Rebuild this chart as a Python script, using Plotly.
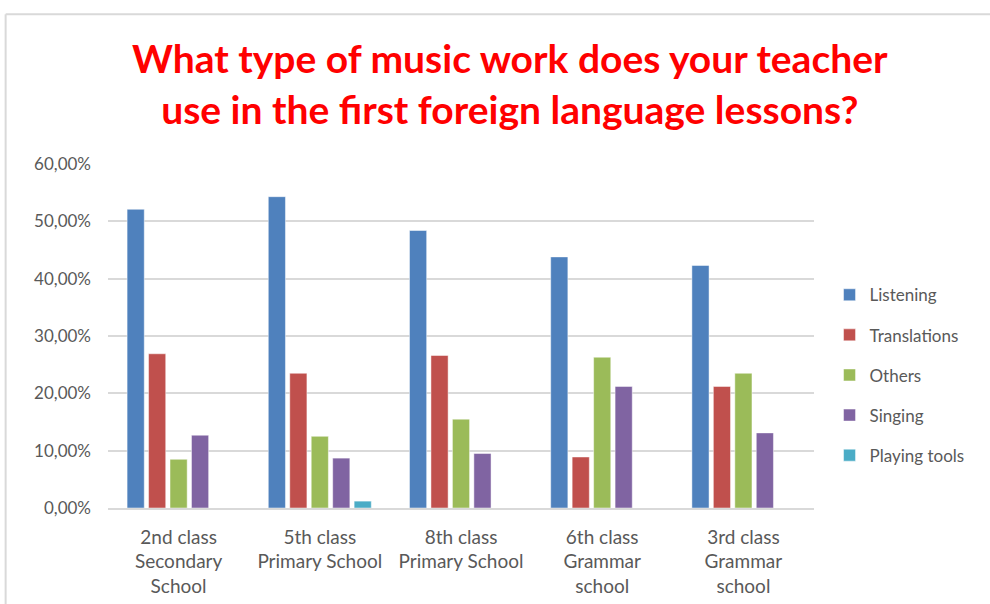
import plotly.graph_objects as go

categories = ["2nd class<br>Secondary<br>School", "5th class<br>Primary School", "8th class<br>Primary School",
              "6th class<br>Grammar<br>school", "3rd class<br>Grammar<br>school"]
series_names = ["Listening", "Translations", "Others", "Singing", "Playing tools"]
listening = [0.521, 0.543, 0.484, 0.438, 0.423]
translations = [0.269, 0.235, 0.266, 0.089, 0.212]
others = [0.085, 0.125, 0.155, 0.263, 0.235]
singing = [0.127, 0.087, 0.095, 0.212, 0.131]
playing_tools = [0.0, 0.012, 0.0, 0.0, 0.0]
colors = ["#4F81BD", "#C0504D", "#9BBB59", "#8064A2", "#4BACC6"]
y_ticks = [0, 0.1, 0.2, 0.3, 0.4, 0.5, 0.6]

series_values = [listening, translations, others, singing, playing_tools]

fig = go.Figure()
for i, (name, vals) in enumerate(zip(series_names, series_values)):
    fig.add_trace(go.Bar(
        x=categories, y=vals, name=name, legendgroup=name,
        marker=dict(color=colors[i], line=dict(color="rgba(255,255,255,0.6)", width=0.8)),
    ))

fig.update_layout(
    width=990, height=604,
    paper_bgcolor="white", plot_bgcolor="white",
    margin=dict(l=108, r=176, t=164, b=96),
    barmode="group", bargap=0.24, bargroupgap=0.2,
    separators=",.",
    font=dict(family="Lato, Carlito, sans-serif", color="#595959", size=16),
    title=dict(
        text="What type of music work does your teacher<br>use in the first foreign language lessons?",
        x=0.515, xanchor="center", y=0.879, yanchor="middle",
        font=dict(family="Lato, sans-serif", size=39, color="#FF0000", weight="bold"),
    ),
    legend=dict(
        x=1.022, xanchor="left", y=0.386, yanchor="middle",
        tracegroupgap=15, font=dict(size=17, color="#595959"),
        itemclick=False,
    ),
    showlegend=True,
    shapes=[
        dict(type="line", xref="paper", yref="paper", x0=-0.145, x1=1.3, y0=1.435, y1=1.435,
             line=dict(color="#D9D9D9", width=2)),
        dict(type="line", xref="paper", yref="paper", x0=-0.145, x1=-0.145, y0=1.435, y1=-0.3,
             line=dict(color="#D9D9D9", width=2)),
    ],
)
fig.update_yaxes(
    range=[0, 0.6], tickvals=y_ticks, tickformat=".2%", automargin=False,
    showgrid=True, gridcolor="#D9D9D9", gridwidth=1.5, zeroline=False,
    showline=False, ticks="", tickfont=dict(size=17, color="#595959"),
    ticklabelstandoff=16,
)
fig.update_xaxes(
    showline=True, linecolor="#D9D9D9", linewidth=1.5, ticks="", automargin=False,
    tickfont=dict(size=19, color="#595959"), ticklabelstandoff=11,
)

fig.write_html("out.html")
